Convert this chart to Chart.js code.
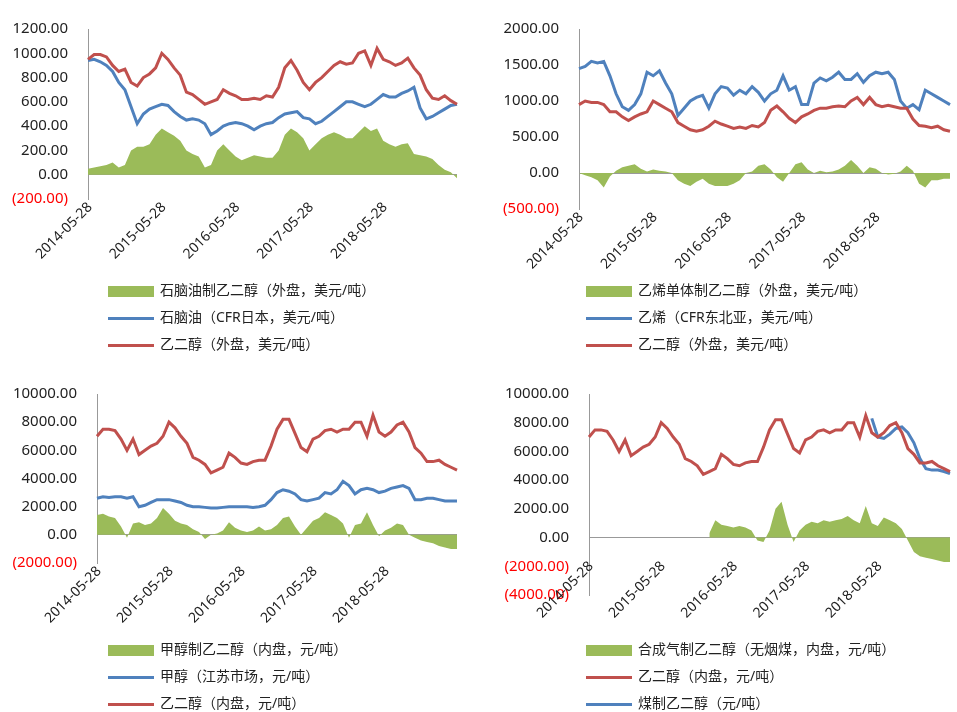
<!DOCTYPE html>
<html>
<head>
<meta charset="utf-8">
<script src="https://cdn.jsdelivr.net/npm/chart.js@4"></script>
<style>
body { margin: 0; background: #fff; font-family: "Noto Sans", "Noto Sans CJK SC", sans-serif; }
.panel { position: absolute; width: 478px; height: 356px; }
.panel canvas { position: absolute; left: 0; top: 0; }
.legend { position: absolute; left: 108px; font-size: 14px; color: #222; }
.legend div { height: 27px; line-height: 27px; white-space: nowrap; }
.sw { display: inline-block; vertical-align: middle; margin-right: 6px; width: 46px; }
.box { height: 11px; background: #9bbb59; }
.ln { height: 3px; }
</style>
</head>
<body>
<div class="panel" style="left:0;top:0"><canvas id="c1" width="478" height="277"></canvas>
  <div class="legend" style="top:276px">
    <div><span class="sw box"></span>石脑油制乙二醇（外盘，美元/吨）</div>
    <div><span class="sw ln" style="background:#4f81bd"></span>石脑油（CFR日本，美元/吨）</div>
    <div><span class="sw ln" style="background:#c0504d"></span>乙二醇（外盘，美元/吨）</div>
  </div></div>
<div class="panel" style="left:478px;top:0"><canvas id="c2" width="478" height="287"></canvas>
  <div class="legend" style="top:276px">
    <div><span class="sw box"></span>乙烯单体制乙二醇（外盘，美元/吨）</div>
    <div><span class="sw ln" style="background:#4f81bd"></span>乙烯（CFR东北亚，美元/吨）</div>
    <div><span class="sw ln" style="background:#c0504d"></span>乙二醇（外盘，美元/吨）</div>
  </div></div>
<div class="panel" style="left:0;top:365px"><canvas id="c3" width="478" height="276"></canvas>
  <div class="legend" style="top:270px">
    <div><span class="sw box"></span>甲醇制乙二醇（内盘，元/吨）</div>
    <div><span class="sw ln" style="background:#4f81bd"></span>甲醇（江苏市场，元/吨）</div>
    <div><span class="sw ln" style="background:#c0504d"></span>乙二醇（内盘，元/吨）</div>
  </div></div>
<div class="panel" style="left:478px;top:365px"><canvas id="c4" width="478" height="308"></canvas>
  <div class="legend" style="top:270px">
    <div><span class="sw box"></span>合成气制乙二醇（无烟煤，内盘，元/吨）</div>
    <div><span class="sw ln" style="background:#c0504d"></span>乙二醇（内盘，元/吨）</div>
    <div><span class="sw ln" style="background:#4f81bd"></span>煤制乙二醇（元/吨）</div>
  </div></div>
<script>
// monthly dates 2014-05 .. 2019-05
const dates = [];
for (let i = 0; i <= 60; i++) {
    const y = 2014 + Math.floor((4 + i) / 12);
    const m = (4 + i) % 12 + 1;
    dates.push(y + '-' + String(m).padStart(2, '0') + '-28');
}
const tickDates = ['2014-05-28', '2015-05-28', '2016-05-28', '2017-05-28', '2018-05-28'];

const megUsd1 = [950, 990,990,970,900,850,870,760,730,800,830,880,1000, 950,880,820,680,660,620,580,600,620,700,670,650, 620,620,630,620,650,640,720,880,940,860,760,700, 760,800,850,900,930,910,920,1000,1020,900,1040,950, 930,900,920,960,880,820,700,630,620,650,610,580];
const naphtha = [940, 950,930,900,850,760,700,560,420,500,540,560,580, 570,520,480,450,460,450,420,330,360,400,420,430, 420,400,370,400,420,430,470,500,510,520,470,460, 420,440,480,520,560,600,600,580,560,580,620,660, 640,640,670,690,720,550,460,480,510,540,570,580];
const naphthaMeg = [50, 60,70,80,100,60,80,200,230,230,250,330,380, 350,320,280,200,170,150,60,80,200,250,200,150, 120,140,160,150,140,140,200,330,380,350,300,200, 250,300,330,350,330,300,300,350,400,360,380,280, 250,230,250,260,170,160,150,130,80,40,20,-30];

const ethylene = [1450, 1480,1550,1530,1550,1350,1100,920,870,950,1100,1400,1350, 1420,1250,1100,800,900,1000,1050,1080,900,1100,1200,1180, 1080,1150,1100,1200,1120,1000,1100,1150,1350,1150,1200,950, 950,1250,1320,1280,1330,1400,1300,1300,1380,1260,1350,1400, 1380,1400,1300,1000,900,950,880,1150,1100,1050,1000,950];
const megUsd2 = [950, 1000,980,980,950,850,850,780,730,780,820,850,1000, 950,900,850,700,650,600,580,600,650,720,680,650, 620,640,620,660,640,700,870,930,850,760,700,780, 820,870,900,900,920,930,920,1000,1050,950,1050,950, 920,940,920,900,900,750,660,650,630,650,600,580];
const ethyleneMeg = [0, -30,-60,-100,-200,-50,30,80,100,120,60,20,50, 30,20,0,-100,-150,-180,-120,-80,-150,-180,-180,-180, -150,-100,0,20,100,120,50,-60,-120,0,120,150, 50,0,30,10,20,50,100,180,100,0,80,60, 0,-20,-10,20,100,30,-150,-200,-100,-100,-80,-80];

const megRmb = [7000, 7500,7500,7400,6800,6000,6800,5700,6000,6300,6500,7000,8000, 7600,7000,6500,5500,5300,5000,4400,4600,4800,5800,5500,5100, 5000,5200,5300,5300,6300,7500,8200,8200,7200,6200,5900,6800, 7000,7400,7500,7300,7500,7500,8000,8000,7000,8500,7300,7000, 7300,7800,8000,7300,6200,5800,5200,5200,5300,5000,4800,4600];
const methanol = [2600, 2700,2650,2700,2700,2600,2700,2000,2100,2300,2500,2500,2500, 2400,2300,2100,2000,2000,1950,1900,1900,1950,2000,2000,2000, 2000,1950,2000,2100,2500,3000,3200,3100,2900,2500,2400,2500, 2600,3000,2900,3200,3800,3500,2900,3200,3300,3200,3000,3100, 3300,3400,3500,3300,2500,2500,2600,2600,2500,2400,2400,2400];
const methanolMeg = [1400, 1500,1300,1200,600,-200,800,900,700,800,1200,1900,1500, 1000,800,700,400,200,-300,0,100,300,900,500,300, 200,300,600,300,400,700,1200,1300,600,0,500,1000, 1200,1600,1400,1200,800,-200,700,800,1600,700,-100,300, 500,800,700,0,-200,-400,-500,-600,-800,-900,-1000,-1000];

const coalMegPrice = Array(47).fill(null).concat([8300,7000,6900,7200,7600,7700,7300,6600,5500,4800,4700,4700,4600,4450]);
const syngasMeg = Array(20).fill(null).concat([300, 1200,900,800,700,800,700,500,-200,-300,500,2000,2500, 900,-300,500,900,1100,1000,1200,1100,1200,1300,1500,1200, 1000,2200,1000,800,1400,1200,1000,600,-200,-1000,-1300, -1400,-1500,-1600,-1700,-1700]);

const green = '#9bbb59', blue = '#4f81bd', red = '#c0504d';
const fontOptions = { size: 15, family: 'Noto Sans' };

function fmt(v) {
    return v < 0 ? '(' + Math.abs(v).toFixed(2) + ')' : v.toFixed(2);
}

// rotated date labels, drawn by hand so they can sit above the plot bottom (panel 4)
const dateLabels = {
    id: 'dateLabels',
    afterDraw(chart, args, opts) {
        const ctx = chart.ctx, xs = chart.scales.x;
        const baseY = chart.chartArea.bottom + opts.shift;
        ctx.save();
        ctx.font = '14px "Noto Sans"';
        ctx.fillStyle = '#222';
        ctx.textAlign = 'right';
        ctx.textBaseline = 'middle';
        tickDates.forEach(d => {
            const x = xs.getPixelForValue(dates.indexOf(d));
            ctx.save();
            ctx.translate(x + 2, baseY + 6);
            ctx.rotate(-Math.PI / 4);
            ctx.fillText(d, 0, 0);
            ctx.restore();
        });
        ctx.restore();
    }
};

function makeChart(id, area, lines, min, max, step, yWidth, right, shift) {
    const datasets = [{
        data: area, backgroundColor: green, borderWidth: 0, fill: 'origin', pointRadius: 0, order: 3
    }];
    lines.forEach((l, i) => datasets.push({
        data: l.data, borderColor: l.color, borderWidth: 3, fill: false, pointRadius: 0, tension: 0, order: 2 - i
    }));
    return new Chart(document.getElementById(id), {
        type: 'line',
        data: { labels: dates, datasets: datasets },
        plugins: [dateLabels],
        options: {
            responsive: false,
            animation: false,
            layout: { padding: { top: 0, right: right, left: 0, bottom: 70 } },
            plugins: { legend: { display: false }, tooltip: { enabled: false }, dateLabels: { shift: shift } },
            scales: {
                x: {
                    offset: false,
                    grid: { display: false },
                    border: { display: false },
                    ticks: { display: false }
                },
                y: {
                    min: min, max: max,
                    border: { color: '#999' },
                    afterFit: s => { s.width = yWidth; },
                    grid: {
                        drawTicks: false,
                        color: ctx => ctx.tick && ctx.tick.value === 0 ? '#999' : 'rgba(0,0,0,0)'
                    },
                    ticks: {
                        stepSize: step, padding: 20, font: fontOptions,
                        color: ctx => ctx.tick.value < 0 ? '#ff0000' : '#222',
                        callback: v => fmt(v)
                    }
                }
            }
        }
    });
}

makeChart('c1', naphthaMeg, [{ data: naphtha, color: blue }, { data: megUsd1, color: red }], -200, 1200, 200, 88, 21, 0);
makeChart('c2', ethyleneMeg, [{ data: ethylene, color: blue }, { data: megUsd2, color: red }], -500, 2000, 500, 101, 6, 0);
makeChart('c3', methanolMeg, [{ data: methanol, color: blue }, { data: megRmb, color: red }], -2000, 10000, 2000, 97, 21, 0);
makeChart('c4', syngasMeg, [{ data: coalMegPrice, color: blue }, { data: megRmb, color: red }], -4000, 10000, 2000, 111, 6, -37);
</script>
</body>
</html>
